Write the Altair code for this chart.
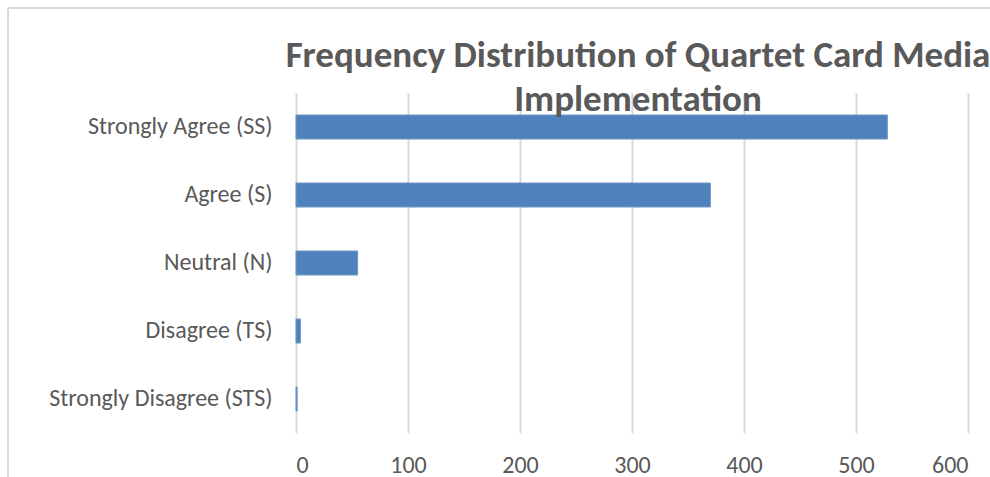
import altair as alt
import pandas as pd

categories = ["Strongly Agree (SS)", "Agree (S)", "Neutral (N)", "Disagree (TS)", "Strongly Disagree (STS)"]
frequencies = [528, 370, 55, 4, 1]
x_ticks = [0, 100, 200, 300, 400, 500, 600]

df = pd.DataFrame({"category": categories, "frequency": frequencies})

FONT = "Carlito, Lato, sans-serif"
TEXT = "#595959"
W, H = 672, 340

bars = alt.Chart(df).mark_bar(color="#4f81bd", stroke="#6f97c8", strokeWidth=1).encode(
    x=alt.X("frequency:Q",
            scale=alt.Scale(domain=[0, 600], nice=False),
            axis=alt.Axis(values=x_ticks, title=None, grid=True, gridColor="#d9d9d9", gridWidth=2,
                          domain=False, ticks=False, labelFont=FONT, labelFontSize=24,
                          labelColor=TEXT, labelPadding=20)),
    y=alt.Y("category:N", sort=categories,
            scale=alt.Scale(paddingInner=0.647, paddingOuter=0.3235),
            axis=alt.Axis(title=None, domain=False, ticks=False, labelFont=FONT,
                          labelFontSize=24, labelColor=TEXT, labelPadding=24, labelLimit=400)),
)

border_left = alt.Chart(df).mark_rule(stroke="#d9d9d9", strokeWidth=2).encode(
    x=alt.value(-288), y=alt.value(-85), y2=alt.value(500)
)
border_top = alt.Chart(df).mark_rule(stroke="#d9d9d9", strokeWidth=2).encode(
    x=alt.value(-288), x2=alt.value(800), y=alt.value(-85)
)

chart = alt.layer(border_left, border_top, bars).properties(
    width=W, height=H,
    background="white",
    title=alt.TitleParams(
        text=["Frequency Distribution of Quartet Card Media", "Implementation"],
        font=FONT, fontSize=37, fontWeight="bold", color=TEXT,
        anchor="middle", baseline="alphabetic", lineHeight=44, offset=-141, dx=6),
    autosize=alt.AutoSizeParams(type="none"),
    padding={"left": 296, "top": 93, "right": 22, "bottom": 44},
).configure_view(stroke=None)

chart.save("out.html", embed_options={"renderer": "svg", "actions": False})
